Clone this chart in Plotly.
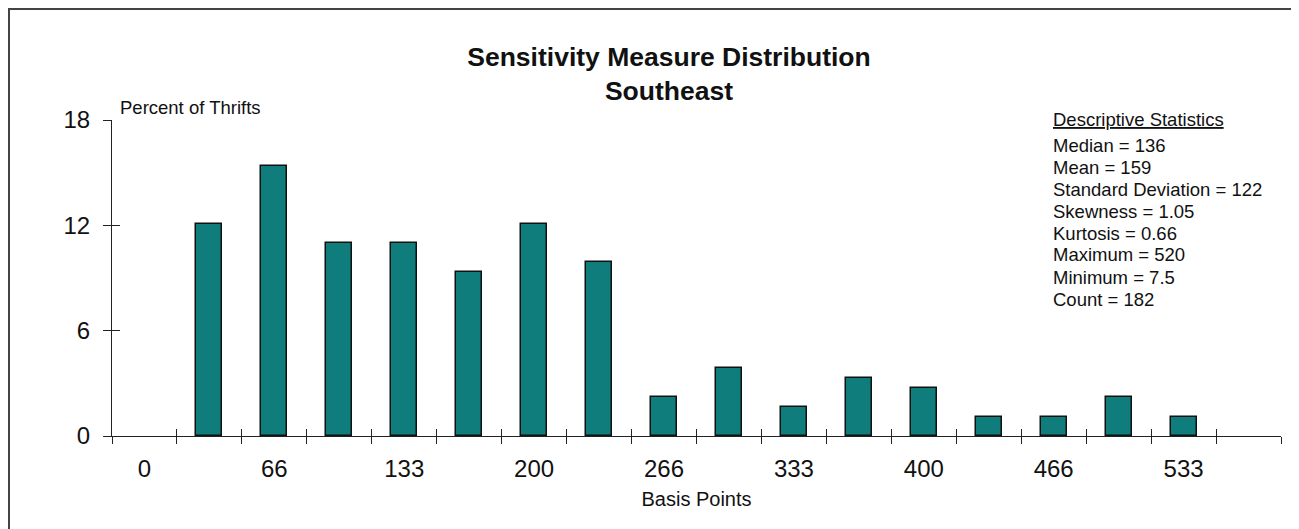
import plotly.graph_objects as go

# Histogram of sensitivity measure (basis points), Southeast thrifts
bin_slots = list(range(1, 17))
pct_thrifts = [12.09, 15.38, 10.99, 10.99, 9.34, 12.09, 9.89, 2.20,
               3.85, 1.65, 3.30, 2.75, 1.10, 1.10, 2.20, 1.10]

tick_labels = ["0", "66", "133", "200", "266", "333", "400", "466", "533"]
tick_slots = [2 * i for i in range(len(tick_labels))]
edge_slots = [i - 0.5 for i in range(19)]
y_ticks = [0, 6, 12, 18]

stats_header = "Descriptive Statistics"
stats_lines = [
    "Median = 136",
    "Mean = 159",
    "Standard Deviation = 122",
    "Skewness = 1.05",
    "Kurtosis = 0.66",
    "Maximum = 520",
    "Minimum = 7.5",
    "Count = 182",
]

FONT = "Liberation Sans, Arial, sans-serif"
# page body has an 8px margin, so the figure is laid out 8px in
OFF = 8
W, H = 1299 - OFF, 529 - OFF
L, R, T, B = 104, 18, 112, 93
PW, PH = W - L - R, H - T - B


def px_x(sx):
    # screen x -> paper x
    return (sx - OFF - L) / PW


def px_y(sy):
    # screen y -> paper y
    return (H - B - (sy - OFF)) / PH


fig = go.Figure()
fig.add_trace(go.Bar(
    x=bin_slots, y=pct_thrifts, width=0.4,
    marker=dict(color="#0E7D7B", line=dict(color="#111111", width=1.5)),
    showlegend=False, hoverinfo="y",
))
# empty helpers so the overlay axes (crossing ticks, labels) get drawn
fig.add_trace(go.Scatter(x=[], y=[], xaxis="x2", yaxis="y", showlegend=False))
fig.add_trace(go.Scatter(x=[], y=[], xaxis="x3", yaxis="y", showlegend=False))
fig.add_trace(go.Scatter(x=[], y=[], xaxis="x", yaxis="y2", showlegend=False))

xr = [-0.5, 17.5]
common_x = dict(range=xr, showgrid=False, zeroline=False, fixedrange=True)
fig.update_layout(
    xaxis=dict(**common_x, showline=True, linecolor="#222", linewidth=1,
               tickmode="array", tickvals=edge_slots, ticks="outside",
               ticklen=7, tickcolor="#222", showticklabels=False),
    xaxis2=dict(**common_x, overlaying="x", anchor="y", showline=False,
                tickmode="array", tickvals=edge_slots, ticks="inside",
                ticklen=7, tickcolor="#222", showticklabels=False),
    xaxis3=dict(**common_x, overlaying="x", anchor="y", showline=False,
                tickmode="array", tickvals=tick_slots, ticktext=tick_labels,
                ticks="", ticklabelstandoff=16,
                tickfont=dict(size=24, color="#111", family=FONT),
                title=dict(text="Basis Points", standoff=10,
                           font=dict(size=20, color="#111", family=FONT))),
    yaxis=dict(range=[0, 18], showgrid=False, zeroline=False, showline=True,
               linecolor="#222", linewidth=1, tickmode="array",
               tickvals=y_ticks, ticks="outside", ticklen=8, tickcolor="#222",
               ticklabelstandoff=8,
               tickfont=dict(size=24, color="#111", family=FONT)),
    yaxis2=dict(range=[0, 18], overlaying="y", anchor="x", showgrid=False,
                zeroline=False, showline=False, tickmode="array",
                tickvals=y_ticks, ticks="inside", ticklen=8, tickcolor="#222",
                showticklabels=False),
    width=W, height=H,
    margin=dict(l=L, r=R, t=T, b=B),
    plot_bgcolor="white", paper_bgcolor="white",
    bargap=0,
    title=dict(text="<b>Sensitivity Measure Distribution<br>Southeast</b>",
               x=(669 - OFF) / W, xref="container",
               xanchor="center", y=1 - (66 - OFF) / H, yanchor="middle",
               font=dict(size=26.5, color="#111", family=FONT)),
)

annotations = [
    dict(text="Percent of Thrifts", x=px_x(118), y=px_y(107),
         xanchor="left", yanchor="middle",
         font=dict(size=18.5, color="#111", family=FONT)),
    dict(text="<u>" + stats_header + "</u>", x=px_x(1051), y=px_y(119),
         xanchor="left", yanchor="middle",
         font=dict(size=18.5, color="#111", family=FONT)),
]
for i, line in enumerate(stats_lines):
    annotations.append(dict(text=line, x=px_x(1051), y=px_y(145 + 22 * i),
                            xanchor="left", yanchor="middle",
                            font=dict(size=18.5, color="#111", family=FONT)))
for a in annotations:
    a.update(xref="paper", yref="paper", showarrow=False)
fig.update_layout(annotations=annotations)

# partial frame (left and top edges) as in the original
fig.update_layout(shapes=[
    dict(type="line", xref="paper", yref="paper", x0=px_x(OFF + 1),
         x1=px_x(OFF + 1), y0=px_y(OFF + 1), y1=px_y(529),
         line=dict(color="#444", width=2)),
    dict(type="line", xref="paper", yref="paper", x0=px_x(OFF),
         x1=px_x(1299), y0=px_y(OFF + 1), y1=px_y(OFF + 1),
         line=dict(color="#444", width=2)),
])

fig.write_html("out.html")
